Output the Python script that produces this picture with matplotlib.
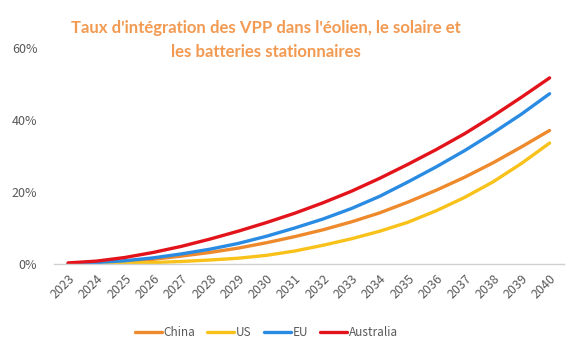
import matplotlib.pyplot as plt
from matplotlib.ticker import FuncFormatter

years = [str(y) for y in range(2023, 2041)]
china = [0.1, 0.3, 0.7, 1.3, 2.2, 3.2, 4.4, 5.9, 7.6, 9.5, 11.7, 14.2, 17.2, 20.5, 24.1, 28.1, 32.5, 37.1]
us = [0.0, 0.1, 0.2, 0.4, 0.7, 1.1, 1.6, 2.4, 3.6, 5.2, 7.0, 9.1, 11.6, 14.8, 18.5, 22.8, 27.9, 33.6]
eu = [0.1, 0.4, 0.9, 1.7, 2.8, 4.1, 5.7, 7.7, 10.0, 12.5, 15.4, 18.8, 22.8, 27.0, 31.5, 36.4, 41.6, 47.3]
australia = [0.3, 0.8, 1.8, 3.2, 4.9, 6.9, 9.1, 11.5, 14.1, 17.0, 20.2, 23.8, 27.7, 31.8, 36.2, 41.1, 46.3, 51.7]

series = [
    ("China", china, "#EE8A2C"),
    ("US", us, "#F8C21A"),
    ("EU", eu, "#2A8BE3"),
    ("Australia", australia, "#E3131B"),
]

fig = plt.figure(figsize=(5.8, 3.48), dpi=100)
ax = fig.add_axes([0.093, 0.2414, 0.879, 0.6206])

x = list(range(len(years)))
for name, vals, color in series:
    ax.plot(x, vals, color=color, lw=2.4, label=name,
            solid_capstyle="round", solid_joinstyle="round")

ax.set_xlim(-0.5, len(years) - 0.5)
ax.set_ylim(0, 60)
ax.set_yticks([0, 20, 40, 60])
ax.yaxis.set_major_formatter(FuncFormatter(lambda v, _: f"{v:.0f}%"))
ax.set_xticks(x)
ax.set_xticklabels(years, rotation=45, ha="right", rotation_mode="anchor")

for side in ["top", "right", "left"]:
    ax.spines[side].set_visible(False)
ax.spines["bottom"].set_color("#D0D0D0")
ax.spines["bottom"].set_linewidth(1.0)
ax.tick_params(axis="both", length=0, colors="#595959", labelsize=9)
ax.tick_params(axis="x", pad=6)
ax.tick_params(axis="y", pad=12)
for lbl in ax.get_xticklabels() + ax.get_yticklabels():
    lbl.set_fontfamily(["Noto Sans CJK KR", "DejaVu Sans"])

# title sits over the whole chart frame, not just the plot area
fig.text(0.459, 0.943, "Taux d'intégration des VPP dans l'éolien, le solaire et\nles batteries stationnaires",
         ha="center", va="top", fontsize=12.1, fontweight="bold", color="#F29A52",
         family="Lato", linespacing=1.6)

leg = fig.legend(loc="lower center", bbox_to_anchor=(0.459, -0.005), ncol=4, frameon=False,
                 handlelength=2.3, handletextpad=0.15, columnspacing=1.0,
                 prop={"family": "Noto Sans CJK KR", "size": 8.5})
for t in leg.get_texts():
    t.set_color("#595959")

fig.savefig("out.png", dpi=100)
